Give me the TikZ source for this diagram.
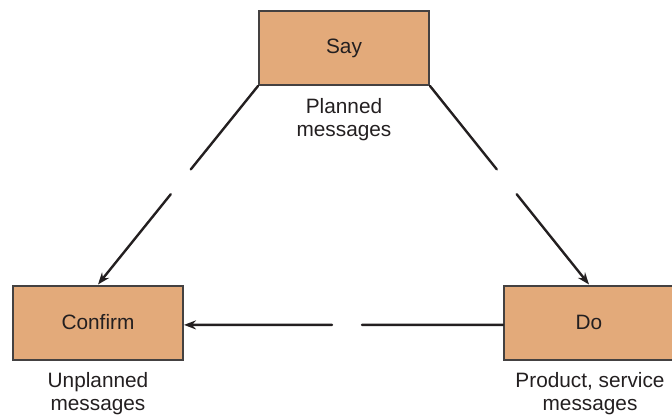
\documentclass[tikz,border=0pt]{standalone}
\usepackage{fontspec}
\setmainfont{Liberation Sans}
\usetikzlibrary{calc,arrows.meta,positioning}
\definecolor{boxtan}{RGB}{227,170,122}
\definecolor{inkgray}{RGB}{35,31,32}
\tikzset{
  msgbox/.style={rectangle, draw=inkgray!85, fill=boxtan, line width=1pt,
                 minimum width=85pt, minimum height=37pt, inner sep=0pt,
                 text=inkgray, font=\fontsize{10.4}{11.5}\selectfont},
  msglabel/.style={align=center, inner sep=0pt, text=inkgray,
                   font=\fontsize{10.4}{11.5}\selectfont},
  flow/.style={line width=1.2pt, inkgray, line cap=round},
  flowend/.style={flow, -{Stealth[length=6pt, width=4.5pt, inset=2pt]}},
}
\begin{document}
\begin{tikzpicture}[x=0.5pt, y=-0.5pt]
  \useasboundingbox (0,0) rectangle (672,417);
  % the three boxes
  \node[msgbox] (say)     at (344,48)    {Say};
  \node[msgbox] (confirm) at (98,322.5)  {Confirm};
  \node[msgbox] (do)      at (589,322.5) {Do};
  % captions
  \node[msglabel] (planned)   at (344,120) {Planned\\messages};
  \node[msglabel] (unplanned) at (98,394)  {Unplanned\\messages};
  \node[msglabel] (product)   at (590,394) {Product, service\\messages};
  % broken connectors
  \draw[flow] (say.south west) -- ($(say.south west)!0.42!(confirm.north)$);
  \draw[flowend] ($(say.south west)!0.545!(confirm.north)$) -- (confirm.north);
  \draw[flow] (say.south east) -- ($(say.south east)!0.42!(do.north)$);
  \draw[flowend] ($(say.south east)!0.545!(do.north)$) -- (do.north);
  \draw[flow] ([yshift=-1.2pt]do.west) -- ($([yshift=-1.2pt]do.west)!0.442!([yshift=-1.2pt]confirm.east)$);
  \draw[flowend] ($([yshift=-1.2pt]do.west)!0.536!([yshift=-1.2pt]confirm.east)$) -- ([yshift=-1.2pt]confirm.east);
\end{tikzpicture}
\end{document}
